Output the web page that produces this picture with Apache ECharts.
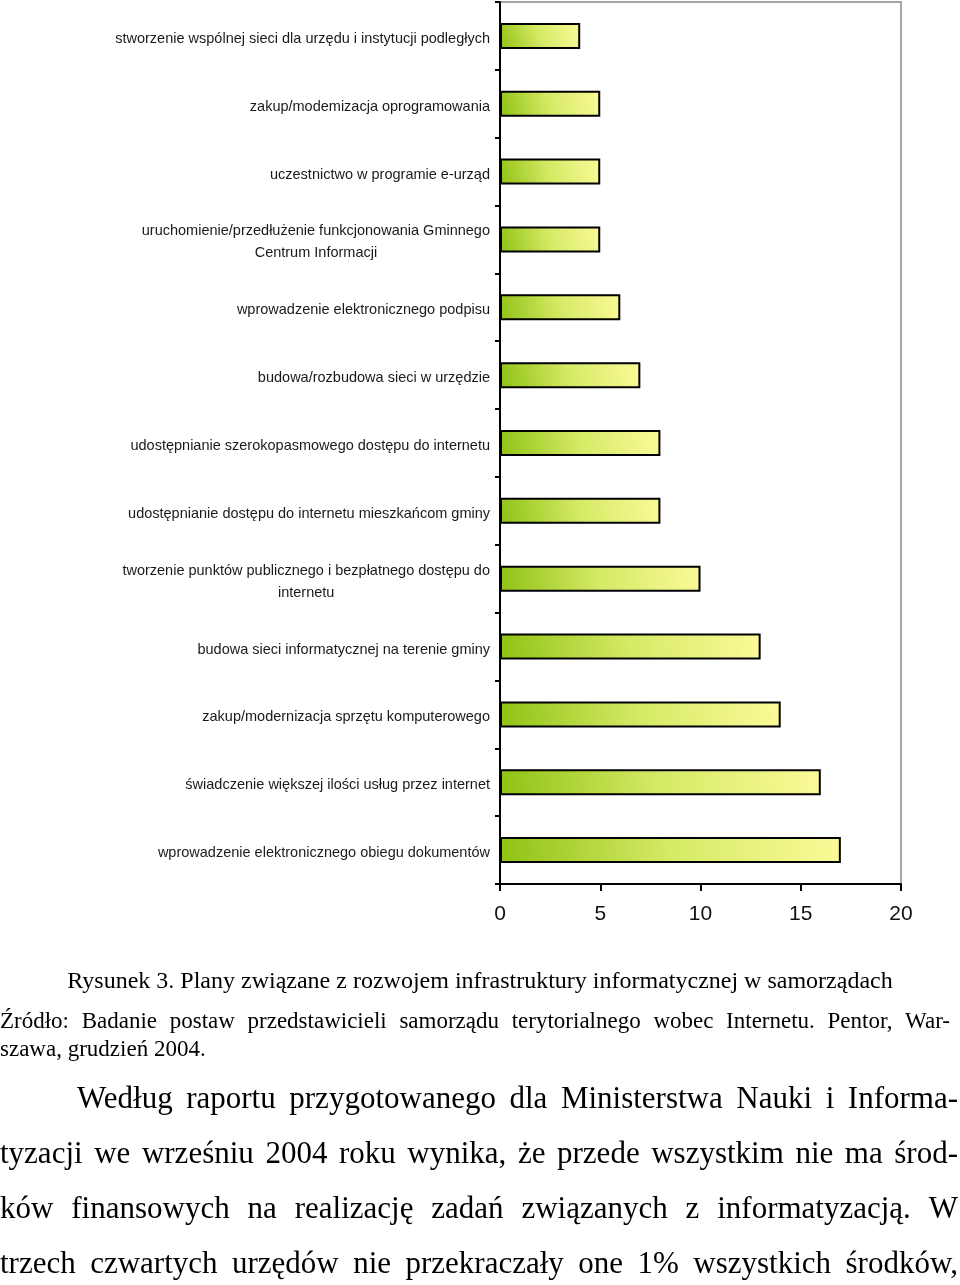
<!DOCTYPE html>
<html>
<head>
<meta charset="utf-8">
<script src="https://cdn.jsdelivr.net/npm/echarts@6/dist/echarts.min.js"></script>
<style>
  html, body { margin: 0; padding: 0; background: #fff; }
  #chart { width: 960px; height: 1285px; }
</style>
</head>
<body>
<div id="chart"></div>
<script>
// ---- data ----
const categories = [
  'stworzenie wspólnej sieci dla urzędu i instytucji podległych',
  'zakup/modemizacja oprogramowania',
  'uczestnictwo w programie e-urząd',
  'uruchomienie/przedłużenie funkcjonowania Gminnego\nCentrum Informacji',
  'wprowadzenie elektronicznego podpisu',
  'budowa/rozbudowa sieci w urzędzie',
  'udostępnianie szerokopasmowego dostępu do internetu',
  'udostępnianie dostępu do internetu mieszkańcom gminy',
  'tworzenie punktów publicznego i bezpłatnego dostępu do\ninternetu',
  'budowa sieci informatycznej na terenie gminy',
  'zakup/modernizacja sprzętu komputerowego',
  'świadczenie większej ilości usług przez internet',
  'wprowadzenie elektronicznego obiegu dokumentów'
];
const values = [4, 5, 5, 5, 6, 7, 8, 8, 10, 13, 14, 16, 17];
const xTicks = [0, 5, 10, 15, 20];

const captionText = 'Rysunek 3. Plany związane z rozwojem infrastruktury informatycznej w samorządach';
const sourceLines = [
  'Źródło: Badanie postaw przedstawicieli samorządu terytorialnego wobec Internetu. Pentor, War-',
  'szawa, grudzień 2004.'
];
const paragraphLines = [
  'Według raportu przygotowanego dla Ministerstwa Nauki i Informa-',
  'tyzacji we wrześniu 2004 roku wynika, że przede wszystkim nie ma środ-',
  'ków finansowych na realizację zadań związanych z informatyzacją. W',
  'trzech czwartych urzędów nie przekraczały one 1% wszystkich środków,'
];

// ---- text layout helpers ----
const mctx = document.createElement('canvas').getContext('2d');
function textLine(line, x0, x1, y, size, justify) {
  const font = 'normal ' + size + 'px "Liberation Serif", "Times New Roman", serif';
  const base = { font: font, fill: '#000', verticalAlign: 'middle', textVerticalAlign: 'middle' };
  if (!justify) {
    return [{ type: 'text', x: x0, y: y, silent: true, style: Object.assign({ text: line }, base) }];
  }
  mctx.font = font;
  const words = line.split(' ');
  const widths = words.map(w => mctx.measureText(w).width);
  const total = widths.reduce((a, b) => a + b, 0);
  const gap = (x1 - x0 - total) / (words.length - 1);
  const out = [];
  let x = x0;
  words.forEach((w, i) => {
    out.push({ type: 'text', x: x, y: y, silent: true, style: Object.assign({ text: w }, base) });
    x += widths[i] + gap;
  });
  return out;
}

const graphics = [];
graphics.push({
  type: 'text', x: 480, y: 982, silent: true,
  style: { text: captionText, font: 'normal 24px "Liberation Serif", serif', fill: '#000',
           align: 'center', textAlign: 'center', verticalAlign: 'middle', textVerticalAlign: 'middle' }
});
graphics.push(...textLine(sourceLines[0], 0, 950, 1022, 23, true));
graphics.push(...textLine(sourceLines[1], 0, 0, 1050, 23, false));
const paraY = [1100, 1155, 1210, 1265];
paragraphLines.forEach((l, i) => {
  graphics.push(...textLine(l, i === 0 ? 77 : 0, 958, paraY[i], 31, true));
});

// ---- chart ----
const chart = echarts.init(document.getElementById('chart'), null, { renderer: 'canvas' });
const barGradient = new echarts.graphic.LinearGradient(0, 1, 1, 0, [
  { offset: 0, color: '#8fc214' },
  { offset: 0.5, color: '#d6ea66' },
  { offset: 1, color: '#fbfa98' }
]);

chart.setOption({
  animation: false,
  backgroundColor: '#fff',
  grid: {
    left: 500, right: 59, top: 2, bottom: 401,
    show: true, borderColor: '#a6a6a6', borderWidth: 2, backgroundColor: 'transparent',
    containLabel: false
  },
  xAxis: {
    type: 'value', min: 0, max: 20, interval: 5,
    axisLine: { show: true, lineStyle: { color: '#000', width: 2 } },
    axisTick: { show: true, length: 7, lineStyle: { color: '#000', width: 2 } },
    axisLabel: { fontSize: 21, color: '#111', margin: 20, fontFamily: '"Liberation Sans", Arial, sans-serif',
      formatter: v => (xTicks.indexOf(v) >= 0 ? String(v) : '') },
    splitLine: { show: false }
  },
  yAxis: {
    type: 'category', data: categories, inverse: true,
    axisLine: { show: true, lineStyle: { color: '#000', width: 2 } },
    axisTick: { show: true, length: 5, lineStyle: { color: '#000', width: 2 } },
    axisLabel: {
      margin: 10, align: 'right', interval: 0, padding: [6, 0, 0, 0],
      formatter: v => v.split('\n').map(s => '{c|' + s + '}').join('\n'),
      rich: {
        c: { align: 'center', fontSize: 14.5, lineHeight: 22, color: '#1a1a1a',
             fontFamily: '"Liberation Sans", Arial, sans-serif' }
      }
    },
    splitLine: { show: false }
  },
  series: [{
    type: 'bar', data: values, barWidth: 26,
    itemStyle: { color: barGradient, borderColor: '#000', borderWidth: 2 }
  }],
  graphic: graphics
});
</script>
</body>
</html>
